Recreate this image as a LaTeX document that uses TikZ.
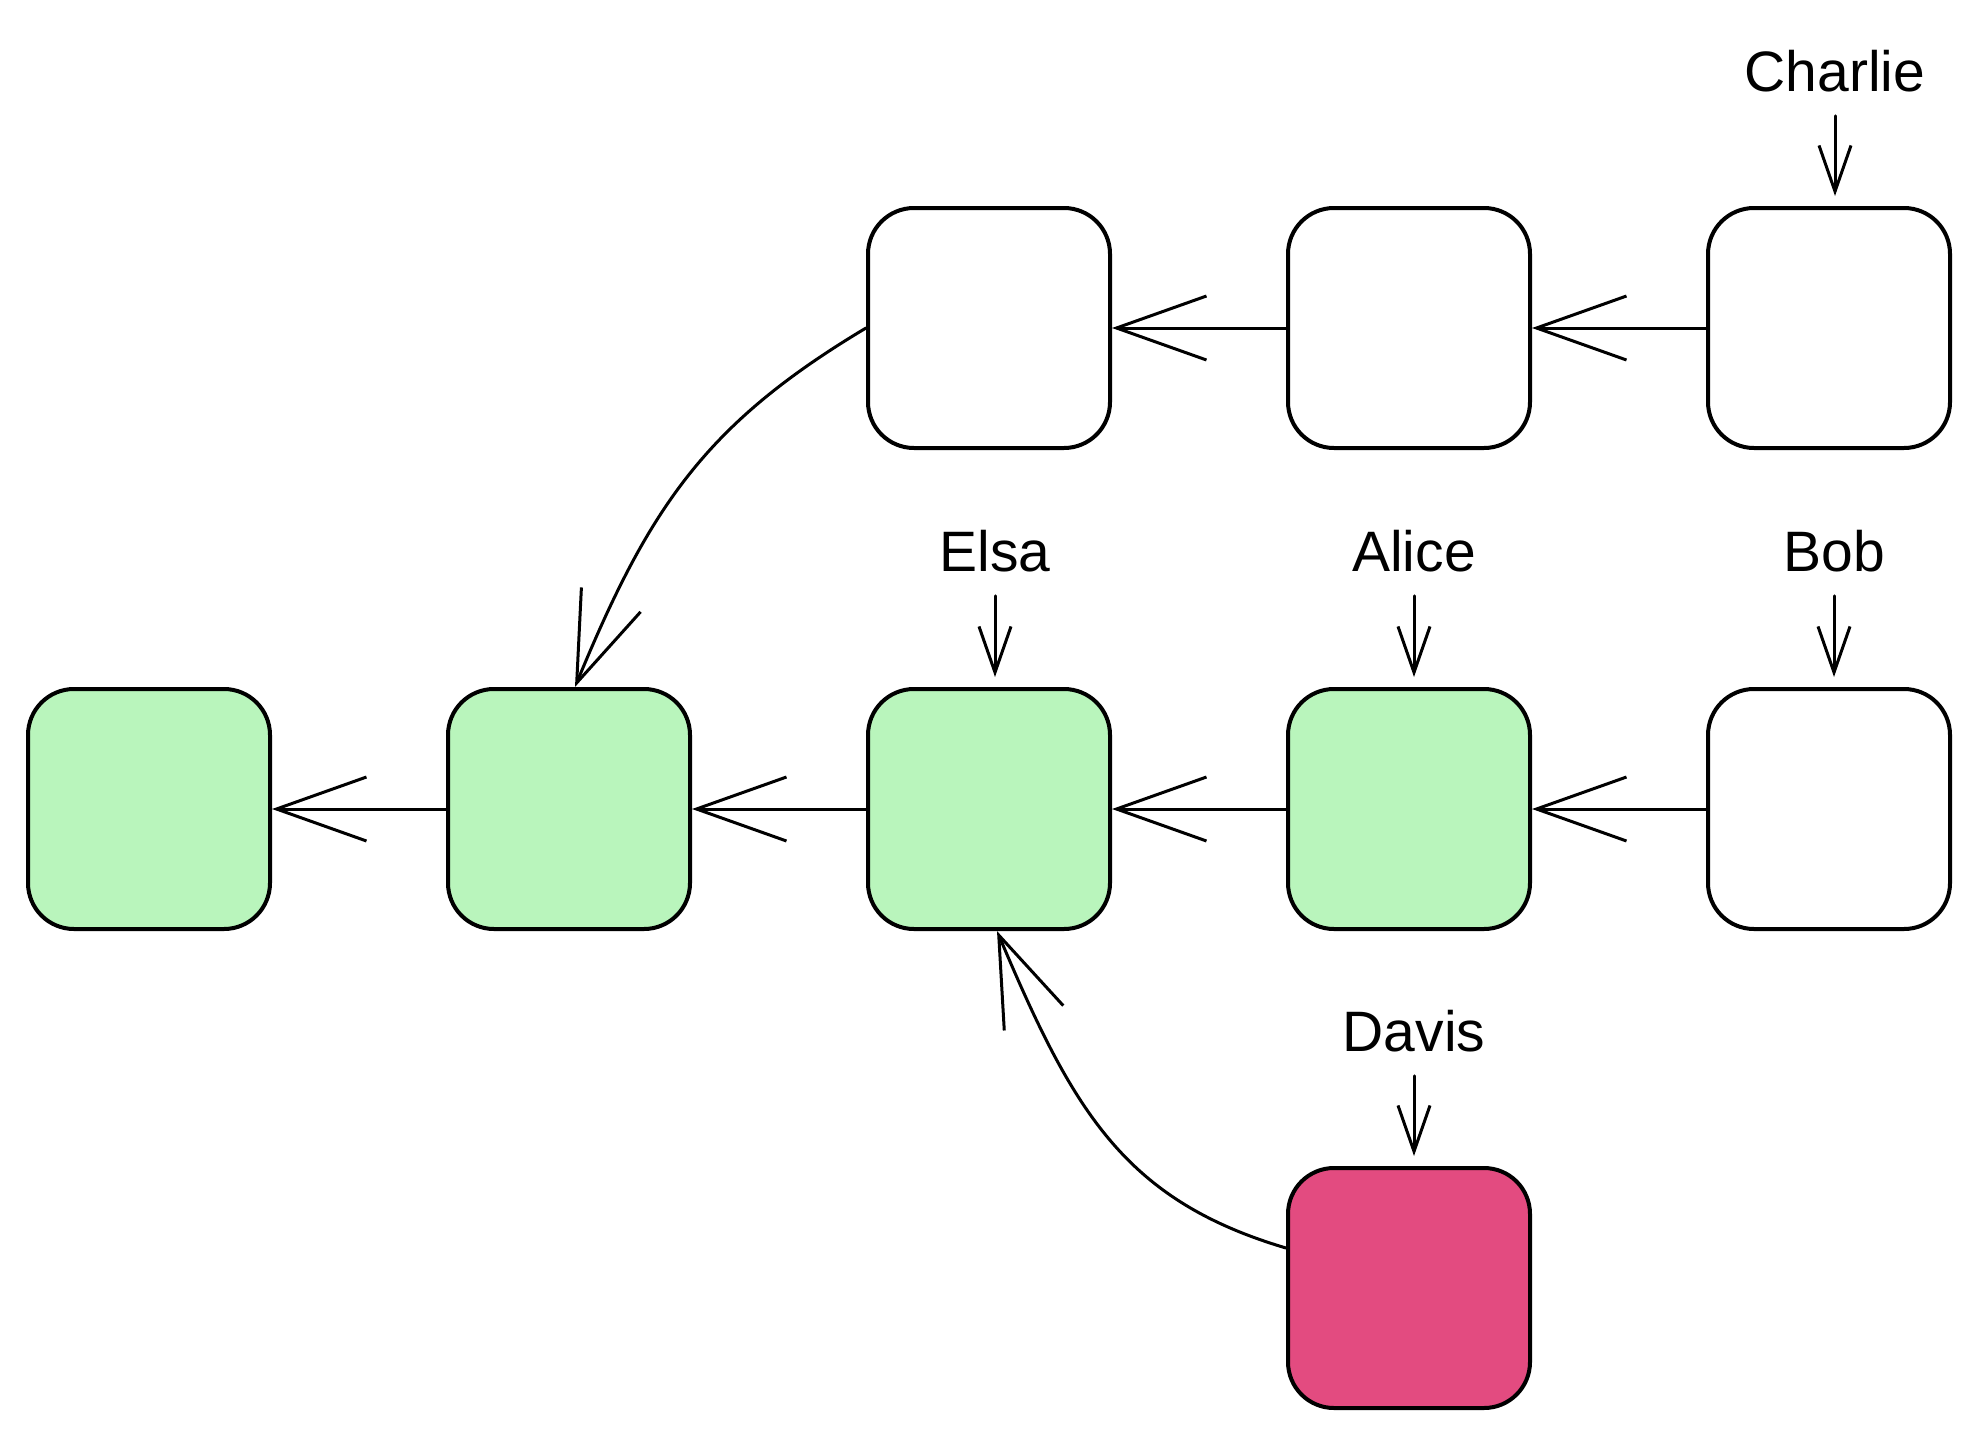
\documentclass[tikz,border=0pt]{standalone}
\usepackage{fontspec}
\setmainfont{Liberation Sans}
\usetikzlibrary{arrows.meta}
\definecolor{boxgreen}{HTML}{B9F5BC}
\definecolor{boxpink}{HTML}{E34B80}
\tikzset{
  cell/.style={draw=black, line width=2pt, rounded corners=23pt,
    minimum width=121pt, minimum height=120pt, inner sep=0pt},
  done/.style={cell, fill=boxgreen},
  open/.style={cell, fill=white},
  bad/.style={cell, fill=boxpink},
  lbl/.style={anchor=base, inner sep=0pt, font=\fontsize{28.5pt}{34pt}\selectfont},
  link/.style={draw=black, line width=1.5pt, line cap=round,
    -{Straight Barb[length=45pt, width=32pt, line width=1.5pt]}},
  pointer/.style={draw=black, line width=1.5pt, line cap=round,
    shorten <=12pt, shorten >=5pt,
    -{Straight Barb[length=23pt, width=16pt, line width=1.5pt]}}
}
\begin{document}
\begin{tikzpicture}[x=0.5pt, y=-0.5pt]
\useasboundingbox (0,0) rectangle (1980,1440);
% top row
\node[open] (t3) at (989,328) {};
\node[open] (t4) at (1409,328) {};
\node[open] (t5) at (1829,328) {};
% middle row
\node[done] (m1) at (149,809) {};
\node[done] (m2) at (569,809) {};
\node[done] (m3) at (989,809) {};
\node[done] (m4) at (1409,809) {};
\node[open] (m5) at (1829,809) {};
% bottom
\node[bad] (d4) at (1409,1288) {};
% labels
\node[lbl] (charlie) at (1835,91) {Charlie};
\node[lbl] (elsa) at (995,571) {Elsa};
\node[lbl] (alice) at (1414,571) {Alice};
\node[lbl] (bob) at (1834,571) {Bob};
\node[lbl] (davis) at (1414,1051) {Davis};
% pointers
\draw[pointer] (charlie.south) -- (charlie.south |- t5.north);
\draw[pointer] (elsa.south) -- (elsa.south |- m3.north);
\draw[pointer] (alice.south) -- (alice.south |- m4.north);
\draw[pointer] (bob.south) -- (bob.south |- m5.north);
\draw[pointer] (davis.south) -- (davis.south |- d4.north);
% links
\draw[link] (t5.west) -- (t4.east);
\draw[link] (t4.west) -- (t3.east);
\draw[link] (m5.west) -- (m4.east);
\draw[link] (m4.west) -- (m3.east);
\draw[link] (m3.west) -- (m2.east);
\draw[link] (m2.west) -- (m1.east);
\draw[link] (t3.west) .. controls (707,423) and (650,505) .. ([xshift=3pt]m2.north);
\draw[link] ([yshift=20pt]d4.west) .. controls (1124,1200) and (1073,1111) .. ([xshift=4pt]m3.south);
\end{tikzpicture}
\end{document}
